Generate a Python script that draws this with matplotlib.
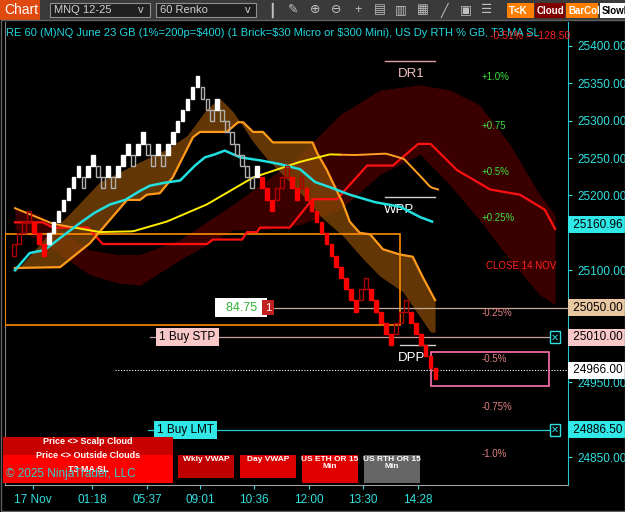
import matplotlib
matplotlib.use("Agg")
import matplotlib.pyplot as plt
import numpy as np
from matplotlib.patches import Rectangle

plt.rcParams['font.family'] = ['Liberation Sans', 'DejaVu Sans']

# ---------------- data ----------------
brick_size = 15.0
base_price = 25127.0
brick_levels = [0,1,2,3,2,1,0,1,2,3,4,5,6,7,6,7,8,7,6,7,6,7,8,9,8,9,10,9,8,9,8,9,10,11,12,13,14,15,
                14,13,12,13,12,11,10,9,8,7,6,7,6,5,4,5,6,7,6,5,6,5,4,3,2,1,0,-1,-2,-3,-4,-5,
                -4,-3,-4,-5,-6,-7,-8,-7,-6,-5,-6,-7,-8,-9,-10,-11]
last_price = 24966.0
time_labels = ["17 Nov", "01:18", "05:37", "09:01", "10:36", "12:00", "13:30", "14:28"]
time_pos = [3.8, 15.8, 26.8, 37.6, 48.4, 59.4, 70.4, 81.4]
price_ticks = [24850, 24950, 25100, 25200, 25250, 25300, 25350, 25400]

# indicator series: (bar index, price)
cyan_x = [0.2,3.2,6.2,9.3,13.3,16.3,19.4,22.4,25.4,27.4,30.4,33.5,36.5,38.5,40.5,42.5,45.6,49.6,53.6,57.7,60.7,63.7,67.7,72.8,77.8,81.9,84.3]
cyan_y = [25100,25123,25127,25143,25163,25177,25188,25194,25206,25213,25217,25220,25240,25251,25255,25260,25251,25247,25242,25235,25218,25211,25201,25191,25185,25171,25165]
ma_x = [0.2,7.9,17.3,24.0,30.8,38.9,48.2,57.7,63.7,68.5,75.0,78.6,81.5,84.0,85.5]
ma_y = [25183,25162,25151,25152,25165,25188,25224,25245,25255,25254,25256,25249,25229,25211,25208]
orange_x = [0.2,9.3,15.3,22.8,25.4,26.8,29.4,32.0,36.1,37.5,42.9,45.2,46.2,48.2,50.2,52.2,60.2,61.1,63.1,64.3,66.3,67.7,69.7,71.8,74.4,77.8,80.4,82.4,84.9]
orange_y = [25103,25104,25136,25194,25194,25201,25203,25224,25278,25285,25285,25298,25298,25285,25285,25271,25271,25257,25234,25217,25190,25165,25150,25148,25128,25121,25118,25091,25060]
cloud_x = [0.2,7.3,10.7,17.3,25.4,30.8,34.9,38.9,41.5,44.2,48.2,51.0,57.0,62.3,66.3,70.4,73.8,78.4,84.0]
cloud_y = [25097,25151,25172,25218,25245,25262,25280,25316,25330,25312,25272,25249,25209,25169,25146,25115,25092,25071,25017]
red_x = [0.2,5.8,7.9,14.9,17.9,38.9,40.1,46.0,47.0,49.0,49.6,55.6,60.2,65.1,71.2,76.4,81.5,84.0,89.3,96.0,102.0,107.0,109.1]
red_y = [25164,25164,25157,25157,25135,25135,25141,25141,25151,25151,25157,25157,25195,25195,25240,25240,25269,25269,25234,25208,25201,25181,25155]
maroon_x = [0.2,5.2,9.3,15.3,20.8,25.4,33.5,44.2,49.6,57.7,65.7,73.8,81.9,87.9,93.9,100.0,106.0,109.1]
maroon_top = [25183,25174,25154,25127,25121,25121,25141,25188,25214,25254,25308,25341,25348,25341,25321,25268,25201,25174]
maroon_bot = [25154,25141,25121,25094,25083,25080,25114,25154,25154,25161,25181,25228,25255,25214,25167,25114,25067,25054]

level_lines = {"+1.0%": 25358, "+0.75": 25293, "+0.5%": 25231, "+0.25%": 25170,
               "CLOSE 14 NOV": 25105, "-0.25%": 25043, "-0.5%": 24981, "-0.75%": 24917, "-1.0%": 24854}

# ---------------- figure ----------------
W, H = 625, 512
fig = plt.figure(figsize=(W/100, H/100), dpi=100, facecolor="black")
ax = fig.add_axes([5/W, 1-485/H, (568-5)/W, (485-22)/H], facecolor="black")
ylo = 24850 - 28/0.7473
yhi = 25400 + 24/0.7473
ax.set_ylim(ylo, yhi)
ax.set_xlim(-1.8, 111.7)

# clouds
ax.fill_between(maroon_x, maroon_bot, maroon_top, color="#3a0000", lw=0, zorder=1)
ox = np.linspace(0.2, 84.9, 300)
ax.fill_between(ox, np.interp(ox, orange_x, orange_y), np.interp(ox, cloud_x, cloud_y),
                color="#8a4c08", alpha=0.72, lw=0, zorder=2)

# orange rectangle (opening range)
ax.add_patch(Rectangle((-1.8, 25026), 77.8 + 1.8, 25149 - 25026, fill=False,
                       ec="#ff8c00", lw=1.2, zorder=3))

ax.plot(red_x, red_y, color="#ff1010", lw=1.6, zorder=4)
ax.plot(orange_x, orange_y, color="#ff9a1a", lw=1.6, zorder=4)
mx = np.linspace(ma_x[0], ma_x[-1], 200)
my = np.interp(mx, ma_x, ma_y)
yel = (mx > 12) & (mx < 66)
ax.plot(np.where(mx <= 12.5, mx, np.nan), my, color="#ffa020", lw=1.4, zorder=5)
ax.plot(np.where(yel, mx, np.nan), my, color="#ffee00", lw=1.4, zorder=5)
ax.plot(np.where(mx >= 65.5, mx, np.nan), my, color="#ffa020", lw=1.4, zorder=5)
ax.plot(cyan_x, cyan_y, color="#20e0e0", lw=1.8, zorder=5)

# bricks
prev = brick_levels[0] - 1
for i, lv in enumerate(brick_levels):
    up = lv > prev
    mid = base_price + lv * brick_size
    white_phase = 7 <= i <= 49
    if white_phase:
        fc, ec = ("white", "white") if up else ("none", "#b0b0b0")
    else:
        fc, ec = ("#ff0000", "#ff0000") if not up else ("none", "#b00000")
    ax.bar(i, brick_size, bottom=mid - brick_size/2, width=0.75, color=fc, edgecolor=ec, lw=1, zorder=6)
    prev = lv
n = len(brick_levels)
ax.plot([n-1, n-1], [last_price - 8, base_price + brick_levels[-1]*brick_size], color="#ff0000", lw=1, zorder=6)
ax.plot([n-1.5, n-0.5], [last_price, last_price], color="#ff0000", lw=1, zorder=6)

# horizontal level lines
ax.plot([40.5, 111.7], [25050, 25050], color="#c8a898", lw=0.9, zorder=3)
ax.plot([27.4, 109.1], [25010, 25010], color="#c8a0a0", lw=0.9, zorder=3)
ax.plot([20.4, 111.7], [24966, 24966], color="white", lw=0.8, ls=(0, (1, 1.5)), zorder=3)
ax.plot([27.0, 109.1], [24886.5, 24886.5], color="#20d0d0", lw=0.9, zorder=3)
ax.plot([74.8, 84.9], [25380, 25380], color="#e0a0a0", lw=1)
ax.plot([74.8, 84.9], [25198, 25198], color="#d0d0d0", lw=1)
ax.plot([77.8, 84.9], [25000, 25000], color="#d0d0d0", lw=1)
ax.text(77.5, 25370, "DR1", color="#f0c0c0", fontsize=9.5, va="top")
ax.text(74.5, 25188, "WPP", color="white", fontsize=9.5, va="top")
ax.text(77.5, 24990, "DPP", color="white", fontsize=9.5, va="top")
ax.add_patch(Rectangle((84.0, 24945), 23.8, 45, fill=False, ec="#ff70b0", lw=1.2, zorder=3))
for lab, p in level_lines.items():
    c = "#40e040" if lab.startswith("+") else ("#ff2020" if lab.startswith("CLOSE") else "#e08080")
    ax.text(95.2 if lab.startswith("CLOSE") else 94.3, p, lab, color=c, fontsize=7, ha="left", va="center")

# boxes on chart
def box(xc, p, txt, fc, tc, fs=8, ha="center"):
    ax.text(xc, p, txt, color=tc, fontsize=fs, ha=ha, va="center", zorder=9,
            bbox=dict(boxstyle="square,pad=0.25", fc=fc, ec="none"))
box(35.0, 25010, "1 Buy STP", "#f8c8c8", "black", 8.5)
box(34.5, 24886.5, "1 Buy LMT", "#30e8e8", "black", 8.5)
box(45.8, 25050, "  84.75  ", "white", "#30b030", 9)
box(51.3, 25050, "1", "#c02020", "white", 8)
for p in (25010, 24886.5):
    ax.text(109.1, p, "\u2715", color="#30e0e0", fontsize=7, ha="center", va="center",
            bbox=dict(boxstyle="square,pad=0.1", fc="black", ec="#30e0e0"))

# axes styling
ax.spines["top"].set_visible(False)
ax.spines["right"].set_color("#20c8d0")
ax.spines["left"].set_color("#808080")
ax.spines["bottom"].set_color("#a0a0a0")
ax.yaxis.tick_right()
ax.set_yticks(price_ticks)
ax.set_yticklabels([f"{v:.2f}" for v in price_ticks], color="#30e0e0", fontsize=8.5)
ax.tick_params(axis="y", colors="#30e0e0", length=3, labelcolor="#30e0e0")
ax.set_xticks(time_pos)
ax.set_xticklabels(time_labels, color="#30e0e0", fontsize=8.5)
ax.tick_params(axis="x", colors="#30e0e0", length=3)

# axis price flags
def flag(p, txt, fc, tc="black"):
    ax.text(1.004, p, " " + txt, transform=ax.get_yaxis_transform(), color=tc, fontsize=8.5,
            va="center", ha="left", zorder=10, clip_on=False,
            bbox=dict(boxstyle="square,pad=0.2", fc=fc, ec="none"))
flag(25160.96, "25160.96", "#30e8e8")
flag(25050, "25050.00", "#e8c8a0")
flag(25010, "25010.00", "#f8c8c8")
flag(24966, "24966.00", "white")
flag(24886.5, "24886.50", "#30e8e8")

# ---------------- UI overlay ----------------
ui = fig.add_axes([0, 0, 1, 1], facecolor="none")
ui.set_xlim(0, W); ui.set_ylim(H, 0); ui.axis("off")
ui.add_patch(Rectangle((0, 0), W, 20, fc="#3a3a3a", ec="none"))
ui.add_patch(Rectangle((0, 0), 40, 20, fc="#e04a10", ec="none"))
ui.text(4, 10, "Chart", color="white", fontsize=10, va="center")
ui.add_patch(Rectangle((50, 3), 100, 14, fc="#202020", ec="#909090", lw=0.8))
ui.text(54, 10, "MNQ 12-25", color="#d0d0d0", fontsize=8, va="center")
ui.text(141, 10, "v", color="#d0d0d0", fontsize=8, va="center", ha="center")
ui.add_patch(Rectangle((156, 3), 100, 14, fc="#202020", ec="#909090", lw=0.8))
ui.text(160, 10, "60 Renko", color="#d0d0d0", fontsize=8, va="center")
ui.text(248, 10, "v", color="#d0d0d0", fontsize=8, va="center", ha="center")
for i, g in enumerate(["\u2503", "\u270e", "\u2295", "\u2296", "+", "\u25a4", "\u25a5", "\u25a6", "\u2571", "\u25a3", "\u2630"]):
    ui.text(272 + i * 21.5, 10, g, color="#c0c0c0", fontsize=9, va="center", ha="center")
for x0, w, fc, tc, t in [(507, 27, "#ff8000", "white", "T<K"), (535, 30, "#800000", "white", "Cloud"),
                         (566, 32, "#ff8000", "white", "BarCol"), (600, 25, "white", "black", "SlowM")]:
    ui.add_patch(Rectangle((x0, 3), w, 15, fc=fc, ec="none"))
    ui.text(x0 + 2, 10.5, t, color=tc, fontsize=7, va="center", fontweight="bold")
ui.text(6, 33, "RE 60 (M)NQ June 23 GB (1%=200p=$400) (1 Brick=$30 Micro or $300 Mini), US Dy RTH % GB, T3 MA SL",
        color="#20d8e0", fontsize=8, va="center")
ui.text(490, 36, "-0.51% = -128.50", color="#ff2020", fontsize=7.5, va="center")

ui.add_patch(Rectangle((3, 437), 170, 18, fc="#c80000", ec="none"))
ui.add_patch(Rectangle((3, 455), 170, 28, fc="#ff0000", ec="none"))
ui.text(88, 442, "Price <> Scalp Cloud", color="white", fontsize=6.5, fontweight="bold", ha="center", va="center")
ui.text(88, 456, "Price <> Outside Clouds", color="white", fontsize=6.5, fontweight="bold", ha="center", va="center")
ui.text(88, 469, "T3 MA SL", color="white", fontsize=6.5, fontweight="bold", ha="center", va="center")
ui.text(6, 474, "\u00a9 2025 NinjaTrader, LLC", color="#30d0d0", fontsize=8.5, va="center")
for x0, fc, t, h in [(178, "#c00000", "Wkly VWAP", 23), (240, "#dd0000", "Day VWAP", 23),
                     (302, "#e00000", "US ETH OR 15\nMin", 28), (364, "#666666", "US RTH OR 15\nMin", 28)]:
    ui.add_patch(Rectangle((x0, 455), 56, h, fc=fc, ec="none"))
    ui.text(x0 + 28, 456, t, color="white", fontsize=6, fontweight="bold", ha="center", va="top",
            linespacing=1.1)
ui.add_patch(Rectangle((0.5, 20), W - 1, H - 21, fill=False, ec="#606060", lw=1))

fig.savefig("out.png", dpi=100, facecolor="black")
